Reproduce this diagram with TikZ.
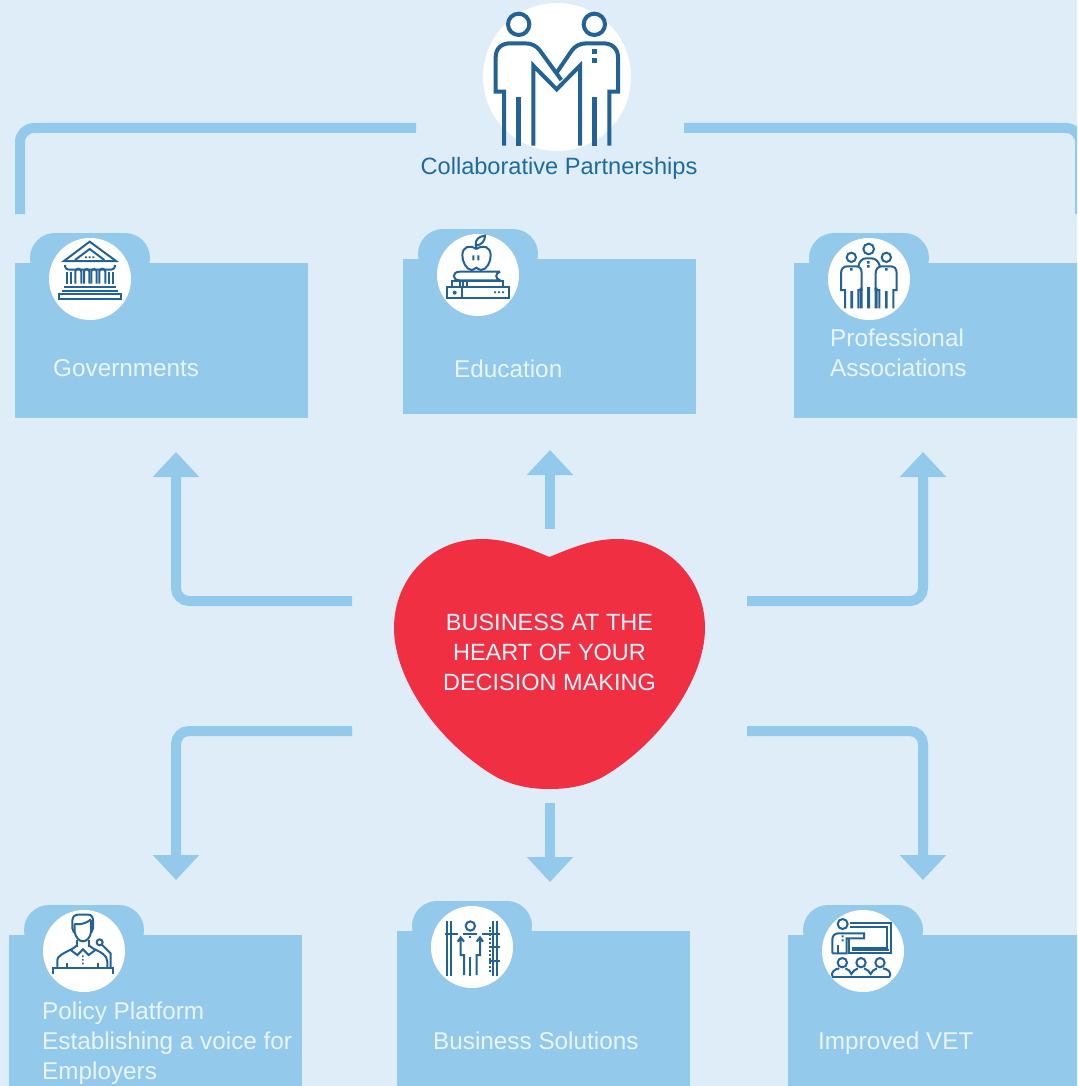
\documentclass[tikz,border=0pt]{standalone}
\usepackage{fontspec}
\setmainfont{Liberation Sans}
\usetikzlibrary{arrows.meta}
\definecolor{bgblue}{HTML}{DFEDF9}
\definecolor{midblue}{HTML}{93CAEB}
\definecolor{heartred}{HTML}{F12F43}
\definecolor{icondark}{HTML}{236294}
\definecolor{titleblue}{HTML}{1F6B9B}
\definecolor{softwhite}{HTML}{EAF4FB}
\tikzset{
  flow/.style={draw=midblue,line width=10pt,rounded corners=13pt,-{Triangle[width=45pt,length=25pt]}},
  bracket/.style={draw=midblue,line width=10pt,rounded corners=14pt},
  folderbody/.style={fill=midblue,inner sep=0pt,minimum width=292.5pt,minimum height=155pt,anchor=north west},
  iconcircle/.style={circle,fill=white,inner sep=0pt,minimum size=82pt},
  lbl/.style={text=softwhite,inner sep=0pt,font=\fontsize{24.3}{30}\selectfont,align=left,anchor=north west},
  ico/.style={draw=icondark,line width=2pt,x=0.33333pt,y=-0.33333pt,line join=miter},
  icodot/.style={fill=icondark},
}
\newcommand{\folder}[3]{%
  \fill[midblue,rounded corners=25pt] (#2+15,#3+20) -- (#2+15,#3-30) -- (#2+135,#3-30) -- (#2+135,#3+20) -- cycle;
  \node[folderbody] (#1) at (#2,#3) {};
  \node[iconcircle] (#1icon) at (#2+75,#3+16) {};
}
\begin{document}
\begin{tikzpicture}[x=1pt,y=-1pt]
\path[use as bounding box] (0,0) rectangle (1077,1086);
\clip (0,0) rectangle (1077,1086);
\fill[bgblue] (0,0) rectangle (1077,1086);

% top bracket
\coordinate (brLa) at (20,214);
\coordinate (brLb) at (20,128);
\coordinate (brLc) at (416,128);
\coordinate (brRa) at (684,128);
\coordinate (brRb) at (1080,128);
\coordinate (brRc) at (1080,214);
\draw[bracket] (brLa) -- (brLb) -- (brLc);
\draw[bracket] (brRa) -- (brRb) -- (brRc);

% partnership emblem
\node[circle,fill=white,inner sep=0pt,minimum size=148pt] (emblem) at (557,77) {};
\begin{scope}[shift={(400,0)},ico,line width=4pt]
  \draw (356,73) circle (32);
  \draw (583,73) circle (32);
  \draw (312,437) -- (312,275) -- (287,275) -- (287,172) .. controls (287,145) and (305,130) .. (330,130) -- (375,130) .. controls (395,130) and (410,138) .. (420,152) -- (484,240);
  \draw (400,437) -- (400,197) -- (470,268) -- (540,197) -- (540,437);
  \draw (628,437) -- (628,275) -- (654,275) -- (654,172) .. controls (654,145) and (635,130) .. (610,130) -- (560,130) .. controls (540,130) and (525,138) .. (515,152) -- (470,218);
  \fill[icodot] (348,292) rectangle (363,437);
  \fill[icodot] (576,292) rectangle (591,437);
  \fill[icodot] (576,147) rectangle (591,161);
  \fill[icodot] (576,174) rectangle (591,188);
\end{scope}
\node[anchor=base,inner sep=0pt,text=titleblue,font=\fontsize{23.6}{28}\selectfont] (title) at (559,175) {Collaborative Partnerships};

% folders
\folder{gov}{15}{263}
\folder{edu}{403}{259}
\folder{prof}{794}{263}
\folder{policy}{9}{935}
\folder{biz}{397}{931}
\folder{vet}{788}{935}

\node[lbl] (govt) at (53,359) {Governments};
\node[lbl] (edut) at (454,360) {Education};
\node[lbl] (proft) at (830,329) {Professional\\Associations};
\node[lbl] (policyt) at (42,1002) {Policy Platform\\Establishing a voice for\\Employers};
\node[lbl] (bizt) at (433,1032) {Business Solutions};
\node[lbl] (vett) at (818,1032) {Improved VET};

% government icon
\begin{scope}[shift={(20,225)},ico]
  \draw (132,108) -- (209,50) -- (288,108) -- cycle;
  \draw (165,105) -- (209,72) -- (253,105);
  \fill[icodot] (195,94) rectangle (201,99) (206,94) rectangle (212,99) (217,94) rectangle (223,99);
  \draw (135,120) .. controls (135,130) and (140,134) .. (150,134) -- (270,134) .. controls (280,134) and (285,130) .. (285,120);
  \draw (140,142) -- (140,176) (152,142) -- (152,176) (268,142) -- (268,176) (280,142) -- (280,176);
  \draw (166,176) -- (166,140) arc (180:360:9) -- (184,176);
  \draw (192,176) -- (192,140) arc (180:360:8) -- (208,176);
  \draw (214,176) -- (214,140) arc (180:360:8) -- (230,176);
  \draw (238,176) -- (238,140) arc (180:360:9) -- (256,176);
  \draw (132,186) -- (288,186) (126,198) -- (294,198);
  \draw (117,208) rectangle (302,222);
\end{scope}

% education icon
\begin{scope}[shift={(410,225)},ico]
  \draw (199,72) .. controls (178,58) and (158,65) .. (157,90) .. controls (156,110) and (170,135) .. (185,135) .. controls (190,135) and (195,130) .. (199,128) .. controls (203,130) and (208,135) .. (213,135) .. controls (230,135) and (243,110) .. (242,90) .. controls (241,65) and (220,58) .. (199,72);
  \draw (197,72) -- (197,48);
  \draw (197,62) .. controls (195,42) and (208,34) .. (225,32) .. controls (225,48) and (215,60) .. (197,62);
  \fill[icodot] (187,91) rectangle (193,106) (202,91) rectangle (208,106);
  \draw (270,140) -- (150,140) .. controls (125,140) and (125,166) .. (150,166) -- (270,166) .. controls (255,160) and (255,146) .. (270,140);
  \draw (125,186) -- (125,169) -- (280,169) -- (280,186);
  \draw (150,169) -- (150,186) (160,169) -- (160,186) (172,169) -- (172,186);
  \draw (112,187) rectangle (298,218);
  \draw[line width=2.4pt] (156,187) -- (156,218);
  \fill[icodot] (134,203) circle (6);
  \fill[icodot] (252,199) rectangle (258,204) (264,199) rectangle (270,204) (276,199) rectangle (282,204);
\end{scope}

% professional icon
\begin{scope}[shift={(800,225)},ico]
  \draw (206,72) circle (16) (154,97) circle (14) (259,97) circle (14);
  \draw (135,250) -- (135,195) -- (123,195) -- (123,145) .. controls (123,132) and (130,124) .. (142,124) -- (168,124) .. controls (180,124) and (185,132) .. (185,145) -- (185,195) -- (175,195) -- (175,250);
  \draw (238,250) -- (238,195) -- (227,195) -- (227,145) .. controls (227,132) and (234,124) .. (246,124) -- (272,124) .. controls (284,124) and (290,132) .. (290,145) -- (290,195) -- (280,195) -- (280,250);
  \draw (175,124) .. controls (178,108) and (188,100) .. (198,100) -- (214,100) .. controls (226,100) and (235,108) .. (240,124);
  \fill[icodot] (151,198) rectangle (159,250) (255,198) rectangle (263,250);
  \fill[icodot] (179,188) rectangle (188,250) (201,186) rectangle (210,250) (224,188) rectangle (233,250);
  \fill[icodot] (150,129) rectangle (158,137) (255,129) rectangle (263,137);
  \fill[icodot] (201,108) rectangle (209,116) (201,120) rectangle (209,128);
\end{scope}

% policy icon
\begin{scope}[shift={(20,900)},ico]
  \draw (162,98) -- (157,85) -- (157,62) .. controls (157,50) and (165,44) .. (175,44) -- (205,44) .. controls (215,44) and (219,52) .. (219,62) -- (219,85) -- (214,98);
  \draw (163,72) .. controls (180,75) and (200,70) .. (213,58);
  \draw (164,72) -- (164,95) .. controls (166,112) and (178,124) .. (189,124) .. controls (200,124) and (212,112) .. (213,95) -- (213,60);
  \draw (172,120) -- (172,140) (206,120) -- (206,140);
  \draw (172,136) -- (152,150) -- (172,165) -- (189,148) -- (206,165) -- (226,150) -- (206,136);
  \draw (112,204) -- (112,180) .. controls (112,170) and (125,162) .. (154,148);
  \draw (224,148) .. controls (240,155) and (262,165) .. (262,185) -- (262,204);
  \draw (100,222) -- (100,205) -- (280,205) -- (280,222);
  \draw (142,188) -- (142,205) (234,188) -- (234,205);
  \fill[icodot] (186,166) rectangle (191,171) (186,177) rectangle (191,182) (186,188) rectangle (191,193);
  \draw (239,127) circle (9);
  \draw (246,134) -- (272,160) -- (272,204);
\end{scope}

% business icon
\begin{scope}[shift={(410,895)},ico,line width=2.2pt]
  \draw (111,78) -- (111,242) (123,78) -- (123,242) (250,78) -- (250,242) (262,78) -- (262,242);
  \draw (105,116) -- (145,116) (160,116) -- (202,116) (217,116) -- (270,116);
  \draw[line width=2pt] (181,93) circle (14);
  \draw[line width=2pt] (162,240) -- (162,180) -- (152,180) -- (152,130) (143,140) -- (152,127) -- (162,140);
  \draw[line width=2pt] (200,240) -- (200,180) -- (210,180) -- (210,130) (200,140) -- (210,127) -- (219,140);
  \draw[line width=2.4pt] (180,185) -- (180,242);
  \fill[icodot] (177,124) rectangle (183,129);
  \foreach \yy in {95,106,118,130,142,154,166,178,190,202,214,226} {\fill[icodot] (237,\yy) rectangle (243,\yy+6);}
  \draw (238,156) -- (270,156) (238,198) -- (270,198);
\end{scope}

% vet icon
\begin{scope}[shift={(800,900)},ico]
  \draw (128,72) circle (15);
  \draw (150,70) -- (272,70) -- (272,160) -- (148,160) -- (148,116);
  \draw (150,82) -- (260,82) -- (260,143) -- (157,143);
  \draw (155,150) -- (266,150);
  \draw (113,160) -- (113,135);
  \draw (97,160) -- (97,118) .. controls (97,107) and (105,100) .. (115,100) -- (192,100) -- (192,115) -- (140,115) -- (140,160) -- (97,160);
  \fill[icodot] (125,106) rectangle (131,112) (125,118) rectangle (131,124);
  \draw (127,188) circle (14) (183,188) circle (14) (240,188) circle (14);
  \draw (97,230) -- (270,230);
  \draw (97,230) .. controls (92,215) and (105,207) .. (118,205) (136,205) .. controls (145,207) and (152,215) .. (154,222) .. controls (158,215) and (165,207) .. (174,205) (192,205) .. controls (202,207) and (208,215) .. (212,222) .. controls (215,215) and (222,207) .. (231,205) (249,205) .. controls (262,207) and (275,215) .. (270,230);
\end{scope}

% heart
\fill[heartred] (549.5,557) .. controls (530,549) and (508,539) .. (482,539)
  .. controls (430,539) and (394,580) .. (394,628)
  .. controls (394,680) and (440,745) .. (498,778)
  .. controls (515,786) and (530,789) .. (549.5,789)
  .. controls (569,789) and (584,786) .. (601,778)
  .. controls (659,745) and (705,680) .. (705,628)
  .. controls (705,580) and (669,539) .. (617,539)
  .. controls (591,539) and (569,549) .. (549.5,557) -- cycle;
\node[inner sep=0pt,text=softwhite,align=center,font=\fontsize{23.5}{30}\selectfont,anchor=north] (heart) at (549.5,614) {BUSINESS AT THE\\HEART OF YOUR\\DECISION MAKING};

% arrows
\coordinate (aGovS) at (352,601);
\coordinate (aGovM) at (176,601);
\coordinate (aGovE) at (176,452);
\coordinate (aEduS) at (550,529);
\coordinate (aEduE) at (550,450);
\coordinate (aProfS) at (747,601);
\coordinate (aProfM) at (923,601);
\coordinate (aProfE) at (923,452);
\coordinate (aPolS) at (352,731);
\coordinate (aPolM) at (176,731);
\coordinate (aPolE) at (176,880);
\coordinate (aBizS) at (550,803);
\coordinate (aBizE) at (550,882);
\coordinate (aVetS) at (747,731);
\coordinate (aVetM) at (923,731);
\coordinate (aVetE) at (923,880);
\draw[flow] (aGovS) -- (aGovM) -- (aGovE);
\draw[flow] (aEduS) -- (aEduE);
\draw[flow] (aProfS) -- (aProfM) -- (aProfE);
\draw[flow] (aPolS) -- (aPolM) -- (aPolE);
\draw[flow] (aBizS) -- (aBizE);
\draw[flow] (aVetS) -- (aVetM) -- (aVetE);
\end{tikzpicture}
\end{document}
